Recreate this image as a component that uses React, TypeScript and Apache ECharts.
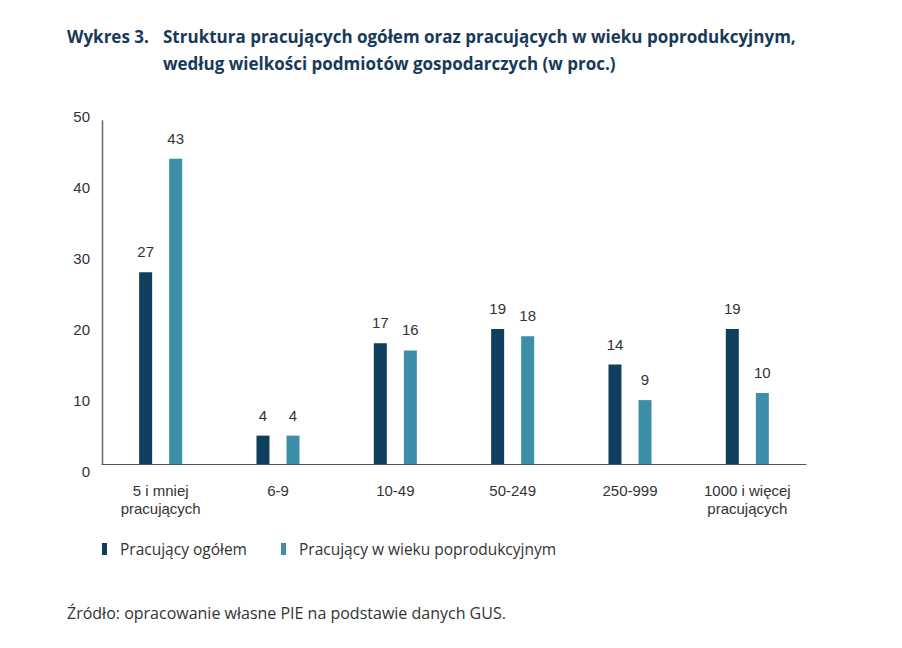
import React, { useEffect, useRef } from "react";
import * as echarts from "echarts";

const categories = [
  "5 i mniej\npracujących",
  "6-9",
  "10-49",
  "50-249",
  "250-999",
  "1000 i więcej\npracujących",
];
const seriesNames = ["Pracujący ogółem", "Pracujący w wieku poprodukcyjnym"];
const ogolem = [27, 4, 17, 19, 14, 19];
const poprodukcyjny = [43, 4, 16, 18, 9, 10];
const titleLabel = "Wykres 3.";
const titleText =
  "Struktura pracujących ogółem oraz pracujących w wieku poprodukcyjnym,\nwedług wielkości podmiotów gospodarczych (w proc.)";
const sourceText = "Źródło: opracowanie własne PIE na podstawie danych GUS.";

const DARK = "#0e3f5c";
const LIGHT = "#3d8fa9";
const TEXT = "#333333";
const NAVY = "#183a5a";

export default function App() {
  const ref = useRef<HTMLDivElement>(null);

  useEffect(() => {
    document.body.style.margin = "0";
    if (!ref.current) return;
    const chart = echarts.init(ref.current, undefined, { renderer: "svg" });
    const labelFont = "'Liberation Sans', Arial, sans-serif";
    const titleStyle = {
      fontFamily: "'Open Sans', sans-serif",
      fontWeight: 700,
      fontSize: 17,
      color: NAVY,
      lineHeight: 27,
    };
    const option: any = {
      animation: false,
      backgroundColor: "#ffffff",
      title: [
        { text: titleLabel, left: 67, top: 23, padding: 0, textStyle: titleStyle },
        { text: titleText, left: 163, top: 23, padding: 0, textStyle: titleStyle },
        {
          text: sourceText,
          left: 67,
          top: 603,
          padding: 0,
          textStyle: {
            fontFamily: "'Open Sans', sans-serif",
            fontWeight: 400,
            fontSize: 16,
            color: TEXT,
            lineHeight: 20,
          },
        },
      ],
      legend: {
        left: 102,
        top: 541,
        padding: 0,
        icon: "rect",
        itemWidth: 5,
        itemHeight: 12,
        itemGap: 34,
        selectedMode: false,
        textStyle: {
          fontFamily: "'Open Sans', sans-serif",
          fontSize: 15.5,
          color: TEXT,
          padding: [0, 0, 0, 8],
        },
        data: seriesNames,
      },
      grid: {
        left: 102,
        right: 96,
        top: 109,
        bottom: 184,
        containLabel: false,
      },
      xAxis: {
        type: "category",
        data: categories,
        axisTick: { show: false },
        axisLine: { lineStyle: { color: "#555555", width: 1 } },
        axisLabel: {
          fontFamily: labelFont,
          fontSize: 15,
          color: TEXT,
          lineHeight: 18,
          margin: 17,
          interval: 0,
        },
      },
      yAxis: {
        type: "value",
        min: 0,
        max: 50,
        interval: 10,
        splitLine: { show: false },
        axisTick: { show: false },
        axisLine: { show: false },
        axisLabel: {
          fontFamily: labelFont,
          fontSize: 15,
          color: TEXT,
          margin: 12,
          verticalAlign: "top",
        },
      },
      series: [
        {
          name: seriesNames[0],
          type: "bar",
          data: ogolem,
          barWidth: 13,
          barGap: "131%",
          itemStyle: { color: DARK },
          label: {
            show: true,
            position: "top",
            distance: 13,
            fontFamily: labelFont,
            fontSize: 15,
            color: TEXT,
          },
        },
        {
          name: seriesNames[1],
          type: "bar",
          data: poprodukcyjny,
          barWidth: 13,
          itemStyle: { color: LIGHT },
          label: {
            show: true,
            position: "top",
            distance: 13,
            fontFamily: labelFont,
            fontSize: 15,
            color: TEXT,
          },
        },
      ],
    };
    chart.setOption(option);
    const y0 = chart.convertToPixel({ yAxisIndex: 0 }, 0) as number;
    const yTop = chart.convertToPixel({ yAxisIndex: 0 }, 48.4) as number;
    chart.setOption({
      graphic: [
        {
          type: "line",
          shape: { x1: 102.5, y1: yTop, x2: 102.5, y2: y0 },
          style: { stroke: "#666666", lineWidth: 1.5 },
          z: 10,
        },
      ],
    });
    return () => chart.dispose();
  }, []);

  return <div ref={ref} style={{ width: 902, height: 648 }} />;
}
